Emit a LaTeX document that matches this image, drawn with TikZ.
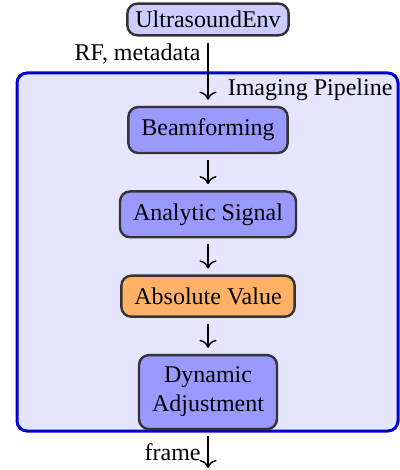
\documentclass[tikz,border=0pt]{standalone}
\usepackage{fontspec}
\setmainfont{Liberation Serif}
\usetikzlibrary{positioning,arrows.meta}
\begin{document}
\begin{tikzpicture}[x=0.5pt, y=-0.5pt,
		font=\fontsize{12}{14.5}\selectfont,
		envbox/.style={draw=black!80, line width=1.2pt, rounded corners=5pt, fill=blue!20, inner xsep=4pt, inner ysep=3.7pt},
		stagebox/.style={draw=black!80, line width=1.2pt, rounded corners=5pt, fill=blue!40, inner xsep=6.5pt, inner ysep=6pt, align=center},
		absbox/.style={stagebox, fill=orange!60},
		pipebox/.style={draw=blue!80!black, line width=1.5pt, rounded corners=5pt, fill=blue!10},
		flow/.style={-{To[scale=1.3]}, line width=0.7pt, shorten <=3pt, shorten >=3pt}]
	\useasboundingbox (0,0) rectangle (400,470);
	% container
	\node[pipebox, minimum width=190.5pt, minimum height=179pt] (pipe) at (207.5,252) {};
	\node[anchor=north east] (pipetitle) at (pipe.north east) {Imaging Pipeline};
	% stages
	\node[envbox] (env) at (208,19.5) {UltrasoundEnv};
	\node[stagebox] (beam) at (208,130) {Beamforming};
	\node[stagebox, below=18pt of beam] (analytic) {Analytic Signal};
	\node[absbox, below=18pt of analytic] (absval) {Absolute Value};
	\node[stagebox, below=18pt of absval] (dyn) {Dynamic\\Adjustment};
	\coordinate (out) at (208,474);
	% connectors
	\draw[flow] (env) -- node[left, pos=0.25] {RF, metadata} (beam);
	\draw[flow] (beam) -- (analytic);
	\draw[flow] (analytic) -- (absval);
	\draw[flow] (absval) -- (dyn);
	\draw[flow] (dyn) -- node[left, pos=0.5] {frame} (out);
\end{tikzpicture}
\end{document}
